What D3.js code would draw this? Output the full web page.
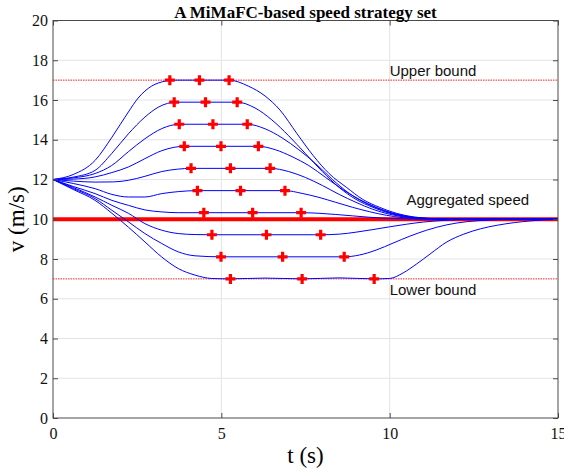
<!DOCTYPE html>
<html>
<head>
<meta charset="utf-8">
<script src="https://cdn.jsdelivr.net/npm/d3@7"></script>
<style>
  html, body { margin: 0; padding: 0; background: #fff; }
  svg { display: block; }
</style>
</head>
<body>
<svg id="chart" width="564" height="472"></svg>
<script>
// Speed strategy set: ten candidate speed profiles leaving 12 m/s,
// cruising at a constant level, then merging back into the aggregated speed.
const xTicks = [0, 5, 10, 15];
const yTicks = [0, 2, 4, 6, 8, 10, 12, 14, 16, 18, 20];

const upperBound = 17;
const lowerBound = 7;
const aggregatedSpeed = 10;

// cruise level of each profile
const plateauSpeeds = [17, 15.89, 14.78, 13.67, 12.56, 11.44, 10.33, 9.22, 8.11, 7];

// marked instants on each cruise segment (start, middle, end)
const markerTimes = [
  [3.47, 4.35, 5.23],
  [3.60, 4.53, 5.47],
  [3.75, 4.75, 5.77],
  [3.90, 4.99, 6.10],
  [4.10, 5.27, 6.45],
  [4.29, 5.57, 6.89],
  [4.48, 5.93, 7.37],
  [4.72, 6.34, 7.95],
  [4.99, 6.82, 8.65],
  [5.27, 7.40, 9.54]
];

// speed profiles as [t (s), v (m/s)]
const profile1 = [[0,12],[0.6,12.25],[1.25,12.96],[1.74,14.1],[2.24,15.4],[2.53,16.1],[2.93,16.7],[3.33,16.95],[3.47,17],[5.23,17],[5.8,16.7],[6.3,16.2],[6.74,15.5],[7.25,14.3],[7.73,13.2],[8.2,12.3],[8.72,11.6],[9.2,11.0],[9.7,10.6],[10.2,10.3],[10.7,10.12],[11.3,10.03],[11.8,10],[15,10]];
const profile2 = [[0,12],[0.6,12.12],[1.25,12.46],[1.74,13.3],[2.24,14.3],[2.73,15.14],[3.13,15.64],[3.4,15.83],[3.6,15.89],[5.47,15.89],[6.0,15.6],[6.5,15.0],[7.0,14.2],[7.5,13.3],[8.0,12.4],[8.5,11.6],[9.0,11.0],[9.5,10.6],[10.0,10.3],[10.5,10.13],[11.0,10.05],[11.8,10],[15,10]];
const profile3 = [[0,12],[0.6,12.08],[1.25,12.3],[1.74,12.7],[2.24,13.4],[2.73,14.05],[3.23,14.56],[3.5,14.72],[3.75,14.78],[5.77,14.78],[6.3,14.55],[6.8,14.1],[7.3,13.5],[7.8,12.8],[8.3,12.0],[8.8,11.3],[9.3,10.8],[9.8,10.45],[10.3,10.2],[10.8,10.07],[11.8,10],[15,10]];
const profile4 = [[0,12],[0.6,12.02],[1.25,12.13],[1.75,12.35],[2.24,12.63],[2.73,13.05],[3.23,13.45],[3.6,13.62],[3.9,13.67],[6.10,13.67],[6.6,13.5],[7.1,13.15],[7.6,12.7],[8.1,12.1],[8.6,11.5],[9.1,11.0],[9.6,10.6],[10.1,10.3],[10.6,10.12],[11.2,10.03],[11.8,10],[15,10]];
const profile5 = [[0,12],[0.6,11.92],[1.25,11.87],[1.8,11.88],[2.24,11.96],[2.73,12.16],[3.23,12.4],[3.7,12.52],[4.1,12.56],[6.45,12.56],[7.0,12.4],[7.5,12.1],[8.0,11.7],[8.5,11.25],[9.0,10.85],[9.5,10.5],[10.0,10.25],[10.5,10.1],[11.2,10.02],[11.8,10],[15,10]];
const profile6 = [[0,12],[0.6,11.8],[1.25,11.54],[1.75,11.25],[2.24,11.12],[2.73,11.12],[3.23,11.29],[3.72,11.39],[4.29,11.44],[6.89,11.44],[7.4,11.3],[7.9,11.1],[8.4,10.85],[8.9,10.6],[9.4,10.38],[9.9,10.2],[10.4,10.08],[11.0,10.02],[11.8,10],[15,10]];
const profile7 = [[0,12],[0.6,11.65],[1.25,11.29],[1.75,10.95],[2.24,10.7],[2.73,10.47],[3.23,10.37],[3.72,10.33],[4.48,10.33],[7.37,10.33],[7.9,10.3],[8.4,10.24],[8.9,10.17],[9.4,10.1],[9.9,10.05],[10.5,10.02],[11.5,10],[15,10]];
const profile8 = [[0,12],[0.6,11.6],[1.25,11.12],[1.75,10.7],[2.24,10.3],[2.73,9.78],[3.23,9.45],[3.72,9.28],[4.22,9.23],[4.72,9.22],[7.95,9.22],[8.5,9.25],[9.0,9.35],[9.5,9.48],[10.0,9.62],[10.5,9.75],[11.0,9.86],[11.7,9.95],[12.5,10],[15,10]];
const profile9 = [[0,12],[0.6,11.55],[1.25,11.04],[1.75,10.45],[2.24,9.87],[2.73,9.28],[3.23,8.78],[3.72,8.36],[4.22,8.16],[4.99,8.11],[8.65,8.11],[9.1,8.2],[9.6,8.45],[10.1,8.8],[10.6,9.15],[11.1,9.45],[11.7,9.72],[12.3,9.88],[13.0,9.96],[13.8,10],[15,10]];
const profile10 = [[0,12],[0.6,11.5],[1.25,10.95],[1.75,10.3],[2.24,9.6],[2.73,8.86],[3.23,8.1],[3.72,7.52],[4.22,7.19],[4.71,7.02],[5.27,7],[6.3,7.04],[7.4,7],[8.5,7.05],[9.54,7],[10.0,7.02],[10.4,7.3],[10.8,7.75],[11.2,8.25],[11.7,8.86],[12.2,9.25],[12.7,9.52],[13.2,9.7],[13.7,9.83],[14.2,9.92],[14.6,9.97],[15,10]];

const profiles = [profile1, profile2, profile3, profile4, profile5,
                  profile6, profile7, profile8, profile9, profile10];

const svg = d3.select("#chart");
const margin = { left: 53, right: 6, top: 20.5, bottom: 54 };
const W = 564, H = 472;

const x = d3.scaleLinear().domain([0, 15]).range([margin.left, W - margin.right]);
const y = d3.scaleLinear().domain([0, 20]).range([H - margin.bottom, margin.top]);

const serif = "'Liberation Serif', 'Times New Roman', serif";
const sans = "'Liberation Sans', Arial, sans-serif";

// grid
const grid = svg.append("g").attr("stroke", "#e3e3e3").attr("stroke-width", 1);
grid.selectAll("line.gx").data(xTicks.slice(1, -1)).join("line")
  .attr("x1", d => x(d)).attr("x2", d => x(d))
  .attr("y1", y(0)).attr("y2", y(20));
grid.selectAll("line.gy").data(yTicks.slice(1, -1)).join("line")
  .attr("x1", x(0)).attr("x2", x(15))
  .attr("y1", d => y(d)).attr("y2", d => y(d));

// clip for the data marks
svg.append("clipPath").attr("id", "plotClip").append("rect")
  .attr("x", x(0)).attr("y", y(20)).attr("width", x(15) - x(0)).attr("height", y(0) - y(20));
const plot = svg.append("g").attr("clip-path", "url(#plotClip)");

// bounds
plot.selectAll("line.bound").data([upperBound, lowerBound]).join("line")
  .attr("x1", x(0)).attr("x2", x(15))
  .attr("y1", d => y(d)).attr("y2", d => y(d))
  .attr("stroke", "#ff2020").attr("stroke-width", 1)
  .attr("stroke-dasharray", "1.5,1");

// aggregated speed
plot.append("line")
  .attr("x1", x(0)).attr("x2", x(15))
  .attr("y1", y(aggregatedSpeed)).attr("y2", y(aggregatedSpeed))
  .attr("stroke", "#ff0000").attr("stroke-width", 4);

// speed profiles
const line = d3.line().x(d => x(d[0])).y(d => y(d[1])).curve(d3.curveMonotoneX);
plot.selectAll("path.profile").data(profiles).join("path")
  .attr("d", line)
  .attr("fill", "none").attr("stroke", "#0000ff").attr("stroke-width", 1);

// markers on cruise segments
const markers = markerTimes.flatMap((ts, i) => ts.map(t => ({ t, v: plateauSpeeds[i] })));
plot.selectAll("path.marker").data(markers).join("path")
  .attr("transform", d => `translate(${x(d.t)},${y(d.v)})`)
  .attr("d", "M-5,0H5M0,-5V5")
  .attr("stroke", "#ff0000").attr("stroke-width", 3.2).attr("fill", "none");

// axes (ticks point inward; only bottom and left carry labels)
const axisColor = "#4a4a4a";
function styleAxis(g, labels) {
  g.select(".domain").remove();
  g.selectAll(".tick line").attr("stroke", axisColor);
  if (labels) {
    g.selectAll(".tick text").attr("fill", "#111")
      .style("font-family", serif).style("font-size", "16px");
  } else {
    g.selectAll(".tick text").remove();
  }
}
svg.append("g").attr("transform", `translate(0,${y(0)})`)
  .call(d3.axisBottom(x).tickValues(xTicks).tickFormat(d3.format("d"))
    .tickSizeInner(-5).tickSizeOuter(0).tickPadding(10))
  .call(g => styleAxis(g, true));
svg.append("g").attr("transform", `translate(0,${y(20)})`)
  .call(d3.axisTop(x).tickValues(xTicks).tickSizeInner(-5).tickSizeOuter(0))
  .call(g => styleAxis(g, false));
svg.append("g").attr("transform", `translate(${x(0)},0)`)
  .call(d3.axisLeft(y).tickValues(yTicks).tickFormat(d3.format("d"))
    .tickSizeInner(-5).tickSizeOuter(0).tickPadding(5))
  .call(g => styleAxis(g, true));
svg.append("g").attr("transform", `translate(${x(15)},0)`)
  .call(d3.axisRight(y).tickValues(yTicks).tickSizeInner(-5).tickSizeOuter(0))
  .call(g => styleAxis(g, false));

// frame
svg.append("rect")
  .attr("x", x(0)).attr("y", y(20))
  .attr("width", x(15) - x(0)).attr("height", y(0) - y(20))
  .attr("fill", "none").attr("stroke", axisColor).attr("stroke-width", 1);

// annotations
const notes = [
  { text: "Upper bound", t: 10, v: upperBound, dy: -4 },
  { text: "Aggregated speed", t: 10.5, v: aggregatedSpeed, dy: -14 },
  { text: "Lower bound", t: 10, v: lowerBound, dy: 16 }
];
svg.selectAll("text.note").data(notes).join("text")
  .attr("x", d => x(d.t)).attr("y", d => y(d.v) + d.dy)
  .style("font-family", sans).style("font-size", "15px").attr("fill", "#111")
  .text(d => d.text);

// title and axis labels
svg.append("text")
  .attr("x", (x(0) + x(15)) / 2).attr("y", 18)
  .attr("text-anchor", "middle")
  .style("font-family", serif).style("font-size", "17px").style("font-weight", "bold")
  .text("A MiMaFC-based speed strategy set");
svg.append("text")
  .attr("x", (x(0) + x(15)) / 2).attr("y", 463)
  .attr("text-anchor", "middle")
  .style("font-family", serif).style("font-size", "23px")
  .text("t (s)");
svg.append("text")
  .attr("transform", `translate(16,${(y(0) + y(20)) / 2}) rotate(-90)`)
  .attr("text-anchor", "middle").attr("dominant-baseline", "central")
  .style("font-family", serif).style("font-size", "23px")
  .text("v (m/s)");
</script>
</body>
</html>
